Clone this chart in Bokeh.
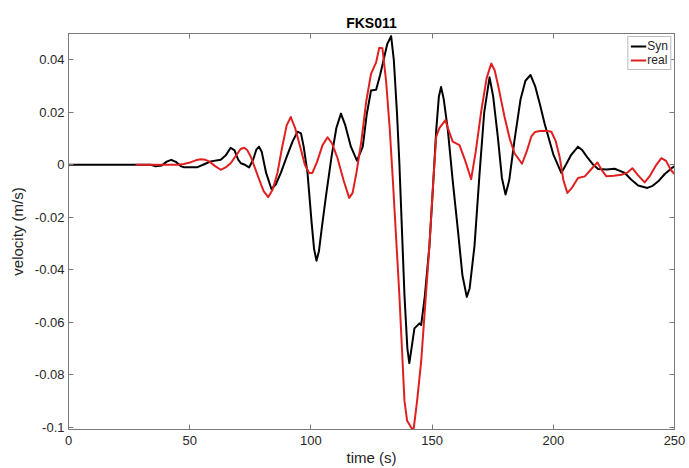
from bokeh.plotting import figure
from bokeh.models import LinearAxis, FixedTicker, Legend, LegendItem, Range1d, CustomJSTickFormatter
from bokeh.embed import file_html
from bokeh.resources import INLINE

# ---- data ----
syn_t = [0, 27.7, 33.9, 36.0, 38.5, 40.5, 42.4, 44.5, 46.5, 47.7, 53.2, 56.0, 58.7, 62.8,
         64.8, 66.9, 68.5, 70.0, 71.1, 72.8, 74.5, 76.2, 77.5, 78.6, 79.7, 81.5, 83.7,
         85.5, 87.6, 90.0, 92.5, 94.5, 95.9, 97.0, 98.6, 100.3, 101.3, 102.3, 103.3,
         104.5, 106.2, 108.5, 110.5, 112.4, 114.2, 116.5, 119.0, 121.4, 123.0, 124.8,
         126.9, 128.5, 129.6, 131.5, 133.1, 134.2, 135.5, 136.5, 138.6, 139.8, 140.6,
         141.5, 142.7, 144.8, 145.5, 147.0, 148.9, 150.4, 151.7, 152.8, 153.7, 154.8,
         156.5, 158.5, 160.6, 162.5, 164.3, 165.5, 167.5, 169.6, 171.5, 173.7, 175.2,
         177.1, 178.8, 180.3, 181.8, 184.0, 186.5, 188.5, 190.6, 192.5, 194.5, 196.4,
         200.0, 203.3, 205.2, 207.4, 210.2, 212.0, 214.3, 216.5, 218.5, 222.0, 225.3,
         229.5, 232.0, 235.0, 238.8, 241.0, 243.3, 246.0, 248.8, 250.0]
syn_v = [0, 0, 0, -0.0006, -0.0003, 0.0012, 0.0019, 0.0010, -0.0006, -0.0009, -0.0009,
         0.0002, 0.0013, 0.0019, 0.0035, 0.0065, 0.0055, 0.0020, 0.0006, 0.0000, -0.0010,
         0.0020, 0.0058, 0.0069, 0.0050, -0.0030, -0.0092, -0.0075, -0.0031, 0.0030,
         0.0090, 0.0126, 0.0120, 0.0070, -0.0031, -0.0220, -0.0320, -0.0365, -0.0330,
         -0.0240, -0.0120, 0.0030, 0.0140, 0.0195, 0.0150, 0.0069, 0.0016, 0.0069, 0.0190,
         0.0283, 0.0286, 0.0340, 0.0384, 0.0460, 0.0490, 0.0400, 0.0200, 0.0006, -0.0497,
         -0.0700, -0.0755, -0.0700, -0.0623, -0.0604, -0.0610, -0.0500, -0.0308, -0.0080,
         0.0132, 0.0260, 0.0296, 0.0250, 0.0132, -0.0060, -0.0245, -0.0420, -0.0503,
         -0.0470, -0.0308, -0.0031, 0.0200, 0.0333, 0.0260, 0.0107, -0.0050, -0.0113,
         -0.0060, 0.0094, 0.0250, 0.0320, 0.0342, 0.0300, 0.0230, 0.0157, 0.0040, -0.0031,
         0.0000, 0.0038, 0.0069, 0.0055, 0.0025, 0.0000, -0.0016, -0.0018, -0.0015,
         -0.0031, -0.0055, -0.0079, -0.0088, -0.0080, -0.0063, -0.0035, -0.0013, -0.0006]

real_t = [27.7, 45.0, 47.6, 50.5, 52.5, 54.5, 56.5, 58.0, 60.5, 62.8, 64.8, 66.9, 69.5,
          71.0, 72.5, 73.8, 75.2, 78.7, 80.5, 82.4, 84.2, 86.2, 88.0, 90.0, 91.7, 93.5,
          95.9, 97.5, 99.3, 100.6, 102.5, 104.8, 106.9, 108.8, 111.0, 113.5, 115.8, 117.2,
          118.8, 120.7, 122.8, 124.8, 126.9, 128.2, 129.5, 131.0, 132.5, 133.8, 136.5,
          138.6, 139.7, 141.0, 142.3, 143.8, 145.5, 148.9, 150.5, 151.7, 153.0, 154.4,
          155.5, 156.5, 158.5, 161.3, 163.5, 166.1, 168.0, 170.2, 172.5, 174.4, 175.8,
          177.1, 179.9, 182.0, 184.0, 187.1, 189.0, 190.9, 192.5, 194.4, 197.0, 199.2,
          201.0, 202.6, 204.2, 205.8, 207.5, 210.2, 213.0, 215.8, 218.2, 220.0, 221.9,
          225.0, 228.1, 230.5, 232.6, 235.0, 237.7, 240.0, 242.5, 244.6, 246.5, 248.5,
          250.0]
real_v = [0, 0, 0.0003, 0.0010, 0.0017, 0.0021, 0.0019, 0.0013, -0.0005, -0.0019, -0.0010,
          0.0006, 0.0040, 0.0060, 0.0065, 0.0055, 0.0031, -0.0057, -0.0100, -0.0123,
          -0.0095, -0.0031, 0.0060, 0.0150, 0.0182, 0.0140, 0.0057, 0.0000, -0.0031,
          -0.0031, 0.0010, 0.0075, 0.0105, 0.0080, 0.0025, -0.0060, -0.0126, -0.0107,
          -0.0030, 0.0082, 0.0240, 0.0346, 0.0390, 0.0446, 0.0444, 0.0321, 0.0140, -0.0057,
          -0.0497, -0.0899, -0.0975, -0.0995, -0.1013, -0.0900, -0.0748, -0.0308, -0.0060,
          0.0107, 0.0140, 0.0157, 0.0170, 0.0140, 0.0088, 0.0075, 0.0020, -0.0055, 0.0050,
          0.0200, 0.0330, 0.0386, 0.0360, 0.0308, 0.0182, 0.0100, 0.0044, 0.0004, 0.0050,
          0.0107, 0.0125, 0.0129, 0.0130, 0.0126, 0.0090, 0.0031, -0.0060, -0.0107,
          -0.0090, -0.0050, -0.0044, -0.0015, 0.0009, -0.0020, -0.0044, -0.0042, -0.0038,
          -0.0030, -0.0013, -0.0040, -0.0067, -0.0040, 0.0000, 0.0025, 0.0015, -0.0020,
          -0.0035]

x_ticks = [0, 50, 100, 150, 200, 250]
y_ticks = [-0.1, -0.08, -0.06, -0.04, -0.02, 0, 0.02, 0.04]
y_tick_labels = ["-0.1", "-0.08", "-0.06", "-0.04", "-0.02", "0", "0.02", "0.04"]

title_text = "FKS011"
x_label = "time (s)"
y_label = "velocity (m/s)"
series_names = ["Syn", "real"]

FONT = "Liberation Sans"
AX = "#7a7a7a"
TXT = "#262626"

p = figure(width=689, height=468, output_backend="svg", toolbar_location=None,
           x_range=Range1d(0, 250), y_range=Range1d(-0.1008, 0.05),
           min_border_left=68, min_border_right=15, min_border_top=33, min_border_bottom=35,
           x_axis_label=x_label, y_axis_label=y_label)

p.title.text = title_text
p.title.align = "center"
p.title.text_font = FONT
p.title.text_font_size = "14px"
p.title.text_font_style = "bold"
p.title.text_color = "#000000"
p.title.standoff = 6

p.xgrid.visible = False
p.ygrid.visible = False
p.outline_line_color = AX
p.background_fill_color = "white"
p.border_fill_color = "white"

l1 = p.line(syn_t, syn_v, line_color="#000000", line_width=2, line_join="round")
l2 = p.line(real_t, real_v, line_color="#e02020", line_width=2, line_join="round")

def style_axis(ax, show_labels=True):
    ax.axis_line_color = AX
    ax.major_tick_line_color = AX
    ax.major_tick_in = 5
    ax.major_tick_out = 0
    ax.minor_tick_line_color = None
    ax.major_label_text_font = FONT
    ax.major_label_text_font_size = "13px"
    ax.major_label_text_color = TXT
    ax.axis_label_text_font = FONT
    ax.axis_label_text_font_size = "15px"
    ax.axis_label_text_font_style = "normal"
    ax.axis_label_text_color = TXT
    if not show_labels:
        ax.formatter = CustomJSTickFormatter(code="return ''")
        ax.major_label_text_font_size = "0px"
        ax.major_label_standoff = 0

p.xaxis.ticker = FixedTicker(ticks=x_ticks)
p.yaxis.ticker = FixedTicker(ticks=y_ticks)
p.yaxis.major_label_overrides = {v: s for v, s in zip(y_ticks, y_tick_labels)}
for ax in p.xaxis + p.yaxis:
    style_axis(ax)
p.xaxis.major_label_standoff = 6
p.xaxis.axis_label_standoff = 1
p.yaxis.major_label_standoff = 4
p.yaxis.axis_label_standoff = 6

top = LinearAxis(ticker=FixedTicker(ticks=x_ticks))
right = LinearAxis(ticker=FixedTicker(ticks=y_ticks))
style_axis(top, False)
style_axis(right, False)
p.add_layout(top, "above")
p.add_layout(right, "right")

legend = Legend(items=[LegendItem(label=series_names[0], renderers=[l1]),
                       LegendItem(label=series_names[1], renderers=[l2])],
                location="top_right")
legend.label_text_font = FONT
legend.label_text_font_size = "12px"
legend.label_text_color = TXT
legend.label_height = 12
legend.glyph_height = 12
legend.glyph_width = 16
legend.label_standoff = 1
legend.padding = 2
legend.spacing = 0
legend.margin = 3
legend.border_line_color = AX
legend.border_line_width = 1
legend.background_fill_alpha = 1
p.add_layout(legend, "center")

open("out.html", "w").write(file_html(p, INLINE))
